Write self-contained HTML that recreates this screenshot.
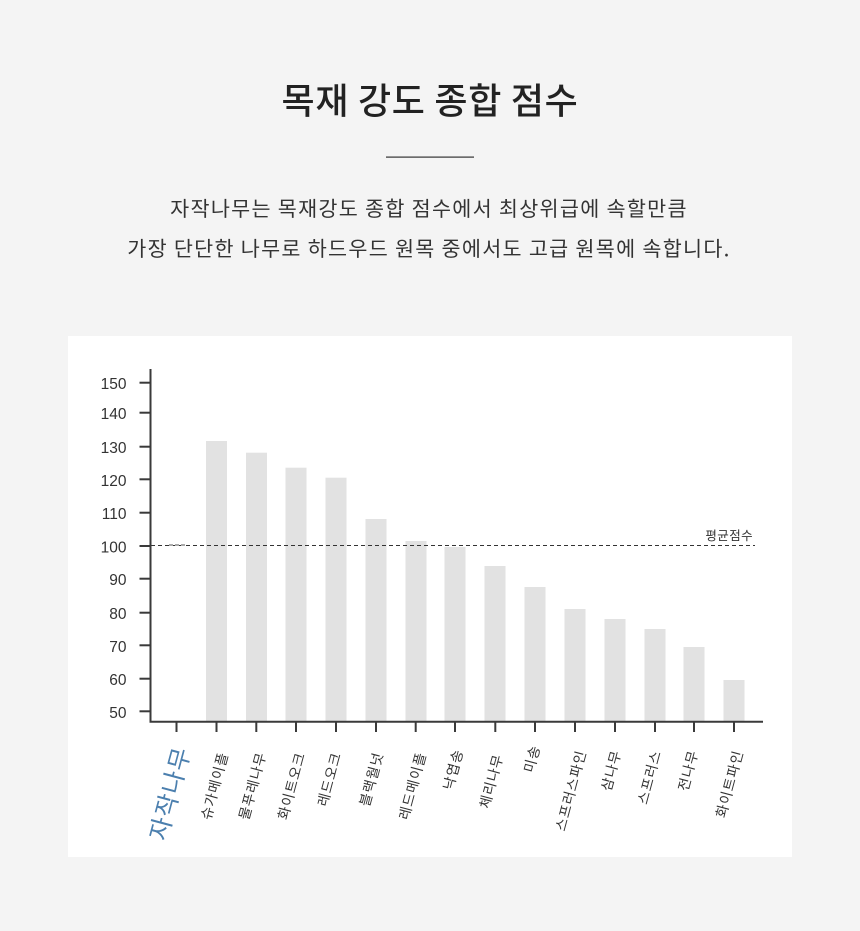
<!DOCTYPE html>
<html>
<head>
<meta charset="utf-8">
<style>
html,body{margin:0;padding:0;background:#f4f4f4;}
svg{display:block;}
text{font-family:"Liberation Sans","Noto Sans CJK KR",sans-serif;}
.kr{font-family:"Noto Sans CJK KR","Liberation Sans",sans-serif;}
</style>
</head>
<body>
<svg width="860" height="931" viewBox="0 0 860 931" xmlns="http://www.w3.org/2000/svg">
  <rect x="0" y="0" width="860" height="931" fill="#f4f4f4"/>
  <!-- Header -->
  <text class="kr" x="430" y="113.5" text-anchor="middle" font-size="36" font-weight="500" letter-spacing="0.7" fill="#222">목재 강도 종합 점수</text>
  <rect x="386" y="156.5" width="88" height="1.2" fill="#333"/>
  <text class="kr" x="429" y="215.8" text-anchor="middle" font-size="20.7" letter-spacing="1.3" fill="#333">자작나무는 목재강도 종합 점수에서 최상위급에 속할만큼</text>
  <text class="kr" x="429" y="255.8" text-anchor="middle" font-size="20.7" letter-spacing="1.3" fill="#333">가장 단단한 나무로 하드우드 원목 중에서도 고급 원목에 속합니다.</text>

  <!-- Panel -->
  <rect x="68" y="336" width="724" height="521" fill="#ffffff"/>

  <!-- Bars -->
  <g fill="#e2e2e2">
    <rect x="206" y="441" width="21" height="281"/>
    <rect x="246" y="452.7" width="21" height="269.3"/>
    <rect x="285.5" y="467.7" width="21" height="254.3"/>
    <rect x="325.5" y="477.7" width="21" height="244.3"/>
    <rect x="365.5" y="519" width="21" height="203"/>
    <rect x="405.5" y="541" width="21" height="181"/>
    <rect x="444.5" y="547" width="21" height="175"/>
    <rect x="484.5" y="566" width="21" height="156"/>
    <rect x="524.5" y="587" width="21" height="135"/>
    <rect x="564.5" y="609" width="21" height="113"/>
    <rect x="604.5" y="619" width="21" height="103"/>
    <rect x="644.5" y="629" width="21" height="93"/>
    <rect x="683.5" y="647" width="21" height="75"/>
    <rect x="723.5" y="680" width="21" height="42"/>
  </g>

  <!-- Average dashed line -->
  <line x1="151" y1="545.5" x2="755" y2="545.5" stroke="#333" stroke-width="1" stroke-dasharray="4 3"/>
  <line x1="169" y1="545" x2="186" y2="545" stroke="#aaa" stroke-width="2" stroke-dasharray="4 2"/>
  <text class="kr" x="753" y="540" text-anchor="end" font-size="12.5" letter-spacing="0.4" fill="#333">평균점수</text>

  <!-- Axes -->
  <line x1="150.5" y1="369" x2="150.5" y2="722.5" stroke="#3a3a3a" stroke-width="2"/>
  <line x1="149.5" y1="721.7" x2="763" y2="721.7" stroke="#3a3a3a" stroke-width="2"/>

  <!-- Y ticks -->
  <g stroke="#3a3a3a" stroke-width="2">
    <line x1="139.5" y1="382.7" x2="150" y2="382.7"/>
    <line x1="139.5" y1="412.7" x2="150" y2="412.7"/>
    <line x1="139.5" y1="446.7" x2="150" y2="446.7"/>
    <line x1="139.5" y1="479.3" x2="150" y2="479.3"/>
    <line x1="139.5" y1="512.7" x2="150" y2="512.7"/>
    <line x1="139.5" y1="546" x2="150" y2="546"/>
    <line x1="139.5" y1="578.7" x2="150" y2="578.7"/>
    <line x1="139.5" y1="612.7" x2="150" y2="612.7"/>
    <line x1="139.5" y1="645.3" x2="150" y2="645.3"/>
    <line x1="139.5" y1="678.7" x2="150" y2="678.7"/>
    <line x1="139.5" y1="711.3" x2="150" y2="711.3"/>
  </g>
  <g font-size="15.5" fill="#333" text-anchor="end">
    <text x="126.5" y="389.2">150</text>
    <text x="126.5" y="419.2">140</text>
    <text x="126.5" y="453.2">130</text>
    <text x="126.5" y="485.8">120</text>
    <text x="126.5" y="519.2">110</text>
    <text x="126.5" y="552.5">100</text>
    <text x="126.5" y="585.2">90</text>
    <text x="126.5" y="619.2">80</text>
    <text x="126.5" y="651.8">70</text>
    <text x="126.5" y="685.2">60</text>
    <text x="126.5" y="717.8">50</text>
  </g>

  <!-- X ticks -->
  <g stroke="#3a3a3a" stroke-width="2">
    <line x1="176.5" y1="722" x2="176.5" y2="732"/>
    <line x1="216.5" y1="722" x2="216.5" y2="732"/>
    <line x1="256.3" y1="722" x2="256.3" y2="732"/>
    <line x1="296" y1="722" x2="296" y2="732"/>
    <line x1="336" y1="722" x2="336" y2="732"/>
    <line x1="376" y1="722" x2="376" y2="732"/>
    <line x1="415.7" y1="722" x2="415.7" y2="732"/>
    <line x1="455" y1="722" x2="455" y2="732"/>
    <line x1="495.3" y1="722" x2="495.3" y2="732"/>
    <line x1="535" y1="722" x2="535" y2="732"/>
    <line x1="575" y1="722" x2="575" y2="732"/>
    <line x1="615" y1="722" x2="615" y2="732"/>
    <line x1="655" y1="722" x2="655" y2="732"/>
    <line x1="694" y1="722" x2="694" y2="732"/>
    <line x1="734" y1="722" x2="734" y2="732"/>
  </g>

  <!-- X labels -->
  <text class="kr" transform="translate(191,749) rotate(-75)" text-anchor="end" font-size="24.5" letter-spacing="1.5" fill="#4b7fae">자작나무</text>
  <g class="kr" font-size="14" fill="#333" text-anchor="end" letter-spacing="1">
    <text class="kr" transform="translate(228.4,753.6) rotate(-75)">슈가메이플</text>
    <text class="kr" transform="translate(266.4,753.6) rotate(-75)">물푸레나무</text>
    <text class="kr" transform="translate(305.4,753.6) rotate(-75)">화이트오크</text>
    <text class="kr" transform="translate(341.4,753.6) rotate(-75)">레드오크</text>
    <text class="kr" transform="translate(383.4,753.6) rotate(-75)">블랙월넛</text>
    <text class="kr" transform="translate(426.4,753.6) rotate(-75)">레드메이플</text>
    <text class="kr" transform="translate(463.4,750.6) rotate(-75)">낙엽송</text>
    <text class="kr" transform="translate(503.4,755.6) rotate(-75)">체리나무</text>
    <text class="kr" transform="translate(540.4,746.6) rotate(-75)">미송</text>
    <text class="kr" transform="translate(586.4,751.6) rotate(-75)">스프러스파인</text>
    <text class="kr" transform="translate(621.4,751.6) rotate(-75)">삼나무</text>
    <text class="kr" transform="translate(661.4,751.6) rotate(-75)">스프러스</text>
    <text class="kr" transform="translate(698.4,751.6) rotate(-75)">전나무</text>
    <text class="kr" transform="translate(743.4,751.6) rotate(-75)">화이트파인</text>
  </g>
</svg>
</body>
</html>
